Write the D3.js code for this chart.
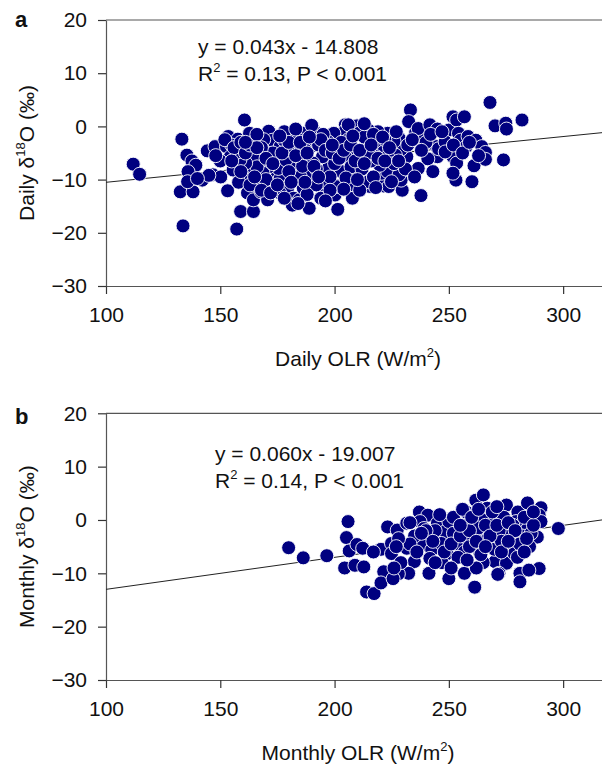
<!DOCTYPE html>
<html>
<head>
<meta charset="utf-8">
<script src="https://d3js.org/d3.v7.min.js"></script>
<style>
  html, body { margin: 0; padding: 0; background: #ffffff; }
  svg { display: block; }
  text { font-family: "Liberation Sans", Arial, sans-serif; fill: #111; }
</style>
</head>
<body>
<svg id="chart" width="602" height="772"></svg>
<script>
// ---------- Data ----------
const xTicks = [100, 150, 200, 250, 300];
const yTicks = [-30, -20, -10, 0, 10, 20];

// Panel a: daily OLR (W/m2) vs daily d18O (permil)
const dailyOLR = [
  111.9,114.7,133.2,135.4,137.6,139.3,135.9,132.5,138.1,133.7,135.7,142.1,144.3,147.7,146.8,150.2,
  153.2,157.2,158.9,161.9,164.5,164.5,167.8,170.7,160.6,153.5,157.7,152.7,154.4,156.9,162.8,162.8,
  164.5,171.2,172.8,176.2,174.5,169.5,167.8,164.5,167.0,171.2,174.5,179.5,182.1,181.5,184.6,186.3,
  188.9,195.5,200.2,201.4,207.8,201.4,206.4,215.6,221.5,223.7,229.6,237.8,253.1,260.1,233.2,232.4,
  235.4,239.1,236.6,241.7,245.0,250.0,251.8,253.4,256.8,254.2,255.1,258.4,261.8,264.4,257.6,251.8,
  253.4,251.8,261.0,266.0,266.0,268.0,270.2,274.9,275.2,273.9,282.0,244.6,245.0,240.8,245.5,248.4,
  248.4,236.6,231.6,228.2,229.1,226.6,229.1,223.2,219.0,214.8,209.8,204.7,204.9,210.6,199.7,197.2,
  201.4,208.1,214.8,219.0,221.5,223.2,218.2,211.5,204.7,197.2,197.2,203.0,209.8,214.8,220.7,223.2,
  228.2,224.9,219.8,207.2,200.5,195.5,189.7,188.8,191.3,186.3,184.6,181.2,182.1,187.1,193.0,194.7,
  190.5,189.7,182.9,182.9,176.2,175.4,178.7,179.5,177.9,171.2,168.7,166.1,161.1,158.6,157.7,155.6,
  160.3,185.0,192.0,198.0,205.0,212.0,216.0,213.0,217.0,206.0,195.0,178.0,173.0,169.0,185.0,192.0,
  203.0,226.0,232.0,240.0,243.0,176.0,188.0,180.0,186.0,158.0,163.0,150.0,148.0,155.0,170.0,211.0,
  217.0,222.0,215.0,200.0,194.0,183.0,190.0,206.0,213.0,
  152.0,156.0,159.0,161.0,163.0,166.0,168.0,170.0,155.0,159.0,165.0,168.0,172.0,175.0,173.0,177.0,
  180.0,183.0,185.0,188.0,191.0,194.0,196.0,199.0,202.0,204.0,207.0,209.0,211.0,213.0,216.0,219.0,
  221.0,224.0,226.0,222.0,218.0,210.0,204.0,198.0,193.0,187.0,181.0,178.0,184.0,196.0,227.0,234.0,
  238.0,242.0,247.0,252.0,256.0,259.0,263.0,231.0,235.0,228.0,189.0,199.0,208.0,176.0,166.0,161.0,
  145.0,140.0
];
const dailyD18O = [
  -7.1,-9.0,-2.4,-5.4,-6.5,-7.3,-8.5,-12.3,-12.3,-18.7,-10.4,-10.1,-4.6,-3.8,-9.1,-9.5,
  -12.1,-19.3,-16.0,-12.5,-16.0,-13.8,-12.3,-13.8,1.2,-1.9,-2.4,-3.8,-5.7,-7.6,-7.9,-1.3,
  -2.9,-0.9,-2.6,-3.8,-5.4,-4.8,-6.6,-5.7,-11.0,-11.3,-9.5,-11.6,-13.5,-14.8,-13.8,-11.6,
  -15.4,-12.9,-12.9,-15.6,-13.5,-11.2,-11.0,-11.3,-11.2,-11.3,-12.0,-13.0,-10.1,-10.4,3.1,0.9,
  -1.3,-1.9,-0.4,0.3,-0.5,-0.7,1.8,1.2,1.8,-1.3,-2.6,-1.9,-2.6,-3.8,-3.8,-5.7,
  -6.9,-8.8,-7.4,-4.9,-6.2,4.5,0.1,0.6,-0.5,-6.3,1.2,-3.8,-5.7,-6.1,-4.2,-2.9,
  -4.8,-7.9,-5.7,-2.2,-4.3,-5.4,-10.1,-1.3,-1.0,-0.7,0.1,0.3,-0.7,-1.3,-1.3,-2.9,
  -3.8,-4.1,-3.2,-3.8,-4.8,-5.7,-5.7,-6.0,-5.7,-5.7,-7.9,-8.5,-8.8,-10.4,-8.8,-8.5,
  -9.1,-10.4,-7.3,-7.6,-11.3,-10.4,-3.8,-1.3,-1.0,-1.3,-2.6,-1.9,-3.8,-4.4,-3.5,-5.7,
  -6.9,-8.8,-7.6,-9.5,-9.8,-7.9,-6.3,-4.4,-2.6,-7.6,-8.8,-7.6,-6.9,-6.3,-4.8,-8.2,
  -9.5,-6.0,-8.0,-9.5,-9.7,-8.0,-6.5,-2.0,-1.5,-2.5,-1.5,-1.0,-5.0,-2.5,-9.5,-11.0,
  -3.0,-2.8,-3.5,-3.0,-8.5,-12.5,-12.8,-8.5,-7.5,-10.5,-11.0,-6.5,-5.5,-3.5,-10.0,-12.0,
  -9.5,-2.5,-5.0,-7.0,-13.5,-0.5,0.2,0.3,0.5,
  -2.5,-4.0,-3.0,-5.0,-3.5,-1.5,-4.0,-6.0,-6.5,-8.5,-9.5,-12.0,-12.5,-11.0,-7.0,-5.0,
  -3.0,-5.5,-3.0,-5.0,-7.5,-2.5,-4.5,-5.0,-6.0,-4.5,-3.5,-6.5,-4.5,-7.0,-3.5,-6.0,
  -2.0,-4.0,-7.0,-6.5,-11.5,-10.0,-11.8,-12.0,-9.5,-10.5,-10.5,-13.5,-14.5,-14.0,-1.0,-2.5,
  -4.5,-1.5,-1.0,-3.5,-5.0,-3.0,-5.5,-8.0,-9.5,-6.5,-2.0,-3.5,-1.8,-1.8,-4.0,-3.0,
  -9.2,-9.8
];
const dailyFit = { slope: 0.043, intercept: -14.808 };
const dailyText = ["y = 0.043x - 14.808", "0.13, P < 0.001"];

// Panel b: monthly OLR vs monthly d18O
const monthlyOLR = [
  179.9,186.3,196.6,205.9,205.2,206.4,209.8,212.3,204.4,208.9,212.8,220.3,223.2,227.4,224.9,224.9,
  231.6,231.6,234.9,221.5,232.4,237.1,240.8,237.4,239.1,241.7,238.3,242.5,241.7,245.0,248.4,250.0,
  246.7,249.2,253.4,255.9,257.6,261.8,265.1,266.8,261.8,265.1,270.2,268.5,261.8,257.6,261.8,263.5,
  256.8,268.5,272.7,270.2,275.2,276.9,275.2,280.2,284.4,290.3,289.5,290.3,284.4,288.7,279.4,277.7,
  285.3,278.6,281.1,289.5,297.9,271.9,256.8,250.0,241.3,227.9,214.0,217.3,220.3,225.6,261.3,271.4,
  281.1,285.0,244.0,252.0,258.0,263.0,267.0,272.0,274.0,278.0,282.0,286.0,283.0,259.0,254.0,247.0,
  265.0,270.0,235.0,233.0,228.0,246.0,252.0,256.0,269.0,273.0,280.0,262.0,251.0,236.0,229.0,217.0,
  226.0,
  240.0,243.0,248.0,251.0,255.0,259.0,262.0,264.0,266.0,268.0,271.0,273.0,276.0,279.0,281.0,284.0,
  287.0,283.0,276.0,266.0,258.0,244.0,238.0,233.0,227.0,260.0,263.0,271.0,287.0,255.0
];
const monthlyD18O = [
  -5.2,-7.1,-6.7,-0.3,-3.3,-5.8,-4.6,-5.3,-9.0,-8.5,-8.8,-5.5,-1.3,-1.9,-4.4,-6.3,
  -5.3,-0.6,-7.8,-9.7,-10.0,1.5,0.9,-0.3,-1.6,-3.2,-4.7,-5.6,-7.2,-0.6,-2.2,-0.3,
  -4.4,-6.3,-4.4,-1.3,1.5,3.7,4.7,2.2,1.2,0.0,0.0,-1.9,-2.5,-3.2,-4.7,-6.0,
  -6.0,-4.7,-6.3,-7.8,-8.1,-2.5,2.8,1.5,3.2,2.3,0.9,-0.3,-1.6,-3.2,-0.3,-4.4,
  -5.0,-6.3,-10.0,-9.1,-1.6,-10.0,-10.0,-11.0,-10.0,-10.1,-13.5,-13.8,-11.8,-11.0,-12.6,-10.2,
  -11.6,-9.4,-2.0,-2.5,-1.0,-1.5,-3.5,-2.0,0.5,-1.0,-3.0,-2.5,0.5,-5.0,-7.0,-8.0,
  -8.0,-5.5,-3.0,-4.5,-3.5,1.0,0.5,2.0,1.5,-4.0,-7.0,-9.0,-9.0,-6.0,-8.0,-6.0,
  -9.0,
  -2.0,-4.0,-6.0,-4.5,-3.0,-2.0,-4.0,-6.5,-1.0,-3.0,-1.0,-6.0,-0.5,-2.0,-4.5,-3.5,
  -1.0,-6.0,-4.0,-5.0,-7.5,-8.0,-2.5,-0.5,-5.0,0.5,2.0,2.5,1.5,-1.0
];
const monthlyFit = { slope: 0.060, intercept: -19.007 };
const monthlyText = ["y = 0.060x - 19.007", "0.14, P < 0.001"];

// ---------- Drawing ----------
const svg = d3.select("#chart");
const FONT = 21;
const dotColor = "#000080";

function panel(cfg) {
  const x = d3.scaleLinear().domain([100, 317]).range([106, 602]);
  const y = d3.scaleLinear().domain([-30, 20]).range([cfg.bottom, cfg.top]);
  const g = svg.append("g");

  // frame top line
  g.append("line")
    .attr("x1", x(100)).attr("x2", 610)
    .attr("y1", y(20)).attr("y2", y(20))
    .attr("stroke", "#555").attr("stroke-width", 1.2);

  // x axis
  const xa = g.append("g").attr("transform", `translate(0,${y(-30)})`)
    .call(d3.axisBottom(x).tickValues(xTicks).tickSize(8).tickSizeOuter(0).tickPadding(13));
  // y axis
  const ya = g.append("g").attr("transform", `translate(${x(100)},0)`)
    .call(d3.axisLeft(y).tickValues(yTicks).tickSize(8).tickSizeOuter(0).tickPadding(11));
  [xa, ya].forEach(a => {
    a.select(".domain").attr("stroke", "#555").attr("stroke-width", 1.2);
    a.selectAll(".tick line").attr("stroke", "#333").attr("stroke-width", 1.2);
    a.selectAll(".tick text").attr("font-size", FONT)
      .attr("font-family", "Liberation Sans, Arial, sans-serif").attr("fill", "#111");
  });

  // regression line
  const xs = [100, 317];
  g.append("path")
    .attr("d", d3.line().x(d => x(d)).y(d => y(cfg.fit.slope * d + cfg.fit.intercept))(xs))
    .attr("stroke", "#222").attr("stroke-width", 1).attr("fill", "none");

  // points
  const pts = cfg.xs.map((v, i) => [v, cfg.ys[i]]);
  g.append("g").selectAll("circle").data(pts).join("circle")
    .attr("cx", d => x(d[0])).attr("cy", d => y(d[1]))
    .attr("r", 7)
    .attr("fill", dotColor)
    .attr("stroke", "#ffffff").attr("stroke-width", 0.9);

  // panel letter
  svg.append("text").attr("x", 15).attr("y", cfg.letterY)
    .attr("font-size", 22).attr("font-weight", "bold").text(cfg.letter);

  // equation
  svg.append("text").attr("x", cfg.eqX).attr("y", cfg.eqY)
    .attr("font-size", FONT).text(cfg.eq[0]);
  const r2 = svg.append("text").attr("x", cfg.eqX).attr("y", cfg.eqY + 27)
    .attr("font-size", FONT);
  r2.append("tspan").text("R");
  r2.append("tspan").attr("font-size", 13).attr("dy", -9).text("2");
  r2.append("tspan").attr("dy", 9).text(" = " + cfg.eq[1]);

  // x title
  const xt = svg.append("text").attr("x", 358).attr("y", cfg.xTitleY)
    .attr("text-anchor", "middle").attr("font-size", FONT);
  xt.append("tspan").text(cfg.xTitle + " OLR (W/m");
  xt.append("tspan").attr("font-size", 13).attr("dy", -9).text("2");
  xt.append("tspan").attr("dy", 9).text(")");

  // y title
  const yt = svg.append("text")
    .attr("transform", `translate(34,${(y(20) + y(-30)) / 2}) rotate(-90)`)
    .attr("text-anchor", "middle").attr("font-size", FONT);
  yt.append("tspan").text(cfg.xTitle + " \u03B4");
  yt.append("tspan").attr("font-size", 13).attr("dy", -9).text("18");
  yt.append("tspan").attr("dy", 9).text("O (\u2030)");
}

panel({ top: 20, bottom: 286, xs: dailyOLR, ys: dailyD18O, fit: dailyFit,
        letter: "a", letterY: 27, eq: dailyText, eqX: 198, eqY: 54,
        xTitle: "Daily", xTitleY: 366 });
panel({ top: 413.3, bottom: 680, xs: monthlyOLR, ys: monthlyD18O, fit: monthlyFit,
        letter: "b", letterY: 424, eq: monthlyText, eqX: 215, eqY: 461,
        xTitle: "Monthly", xTitleY: 760 });
</script>
</body>
</html>
